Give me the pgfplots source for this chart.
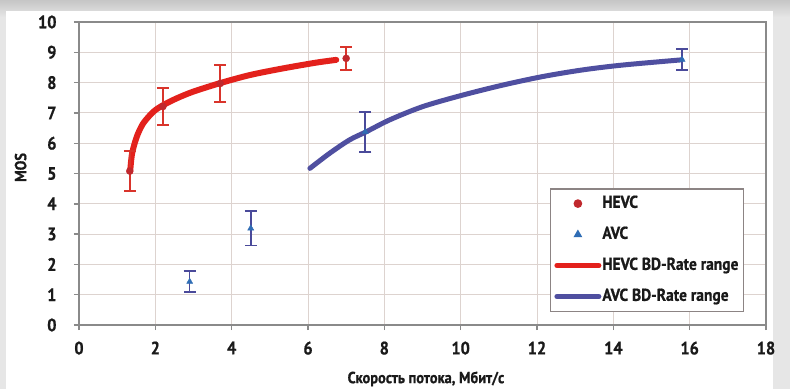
\documentclass[border=0pt]{standalone}
\usepackage{fontspec}
\setmainfont{PT Sans}[FakeStretch=0.9, BoldFont={PT Sans Bold}, BoldFeatures={FakeBold=0.8}]
\usepackage{pgfplots}
\pgfplotsset{compat=1.18}
\definecolor{outerbg}{HTML}{E6E6E6}
\definecolor{hevcline}{HTML}{E3211C}
\definecolor{avcline}{HTML}{4F4FA0}
\definecolor{hevcmark}{HTML}{C0282D}
\definecolor{avcmark}{HTML}{2F6DB5}
\definecolor{hevcerr}{HTML}{D9342B}
\definecolor{avcerr}{HTML}{4A4A9A}
\definecolor{gridc}{HTML}{DDD3CF}
\definecolor{axisc}{HTML}{8A8A8A}
\definecolor{legc}{HTML}{8C8484}
\definecolor{txt}{HTML}{1A1A1A}
\pgfplotsset{
  markentry/.style={legend image code/.code={\path (0pt,0pt) (44pt,0pt); \draw[##1] plot coordinates {(22pt,0pt)};}},
  lineentry/.style={legend image code/.code={\draw[##1] (1pt,0pt) -- (43pt,0pt);}},
}
\begin{document}
\begin{tikzpicture}[x=1pt,y=1pt]
\useasboundingbox (0,0) rectangle (790,389);
\fill[outerbg] (0,0) rectangle (790,389);
\shade[top color=gray!45, bottom color=outerbg] (0,372) rectangle (790,389);
\fill[white] (6,0) rectangle (773,378);
\begin{axis}[
  at={(79pt,64pt)}, anchor=south west,
  scale only axis, width=687pt, height=303pt,
  xmin=0, xmax=18, ymin=0, ymax=10,
  xtick={0,2,...,18}, ytick={0,1,...,10},
  xticklabels={0,2,4,6,8,10,12,14,16,18},
  yticklabels={0,1,2,3,4,5,6,7,8,9,10},
  grid=major,
  grid style={color=gridc, line width=0.9pt},
  axis line style={color=axisc, line width=1.6pt},
  tick style={color=axisc, line width=1.4pt},
  tick pos=lower, tick align=outside, major tick length=5pt,
  tick label style={font=\fontsize{18}{21}\selectfont\bfseries, text=txt},
  xticklabel style={yshift=-8pt},
  yticklabel style={xshift=-14pt},
  xlabel={Скорость потока, Мбит/с},
  ylabel={MOS},
  label style={font=\fontsize{16}{19}\selectfont\bfseries, text=txt},
  x label style={at={(axis description cs:0.505,-0.178)}, anchor=center},
  y label style={at={(axis description cs:-0.085,0.52)}, anchor=center, rotate=0},
  legend style={at={(axis cs:12.33,4.52)}, anchor=north west,
    draw=legc, line width=1.6pt, fill=white,
    font=\fontsize{17.2}{20}\selectfont\bfseries, text=txt,
    nodes={text height=12pt, text depth=3.5pt, inner ysep=2pt, inner xsep=1pt},
    inner xsep=4pt, inner ysep=5pt,
    row sep=11.5pt, column sep=0pt},
  legend cell align=left,
]
% fitted curves
\addplot[color=hevcline, line width=6pt, smooth, line cap=round, forget plot] coordinates {
  (1.34,5.06) (1.39,5.65) (1.51,6.2) (1.68,6.65) (1.95,7.04) (2.21,7.26) (2.56,7.48) (2.99,7.7) (3.69,7.98) (4.48,8.25) (5.35,8.47) (6.22,8.66) (6.74,8.75)
};
\addplot[color=avcline, line width=5pt, smooth, line cap=round, forget plot] coordinates {
  (6.05,5.17) (6.57,5.67) (7.09,6.11) (7.53,6.38) (8.14,6.77) (9.01,7.21) (10.06,7.59) (11.11,7.92) (12.15,8.2) (13.2,8.42) (14.25,8.58) (15.78,8.75)
};
% measured points
\addplot[only marks, mark=*, mark size=3.5pt, color=hevcmark, forget plot,
  error bars/.cd, y dir=both, y explicit,
  error bar style={color=hevcerr, line width=1.6pt},
  error mark options={color=hevcerr, line width=1.6pt, mark size=6pt, rotate=90}]
  coordinates {
  (1.33,5.08) +- (0,0.66)
  (2.2,7.21) +- (0,0.61)
  (3.7,7.97) +- (0,0.61)
  (7.0,8.8) +- (0,0.38)
};
\addplot[only marks, mark=triangle*, mark size=3.5pt, color=avcmark, forget plot,
  error bars/.cd, y dir=both, y explicit,
  error bar style={color=avcerr, line width=1.6pt},
  error mark options={color=avcerr, line width=1.6pt, mark size=6pt, rotate=90}]
  coordinates {
  (2.9,1.43) +- (0,0.35)
  (4.5,3.19) +- (0,0.57)
  (7.5,6.37) +- (0,0.66)
  (15.8,8.76) +- (0,0.34)
};
\addlegendimage{only marks, mark=*, mark size=3.5pt, color=hevcmark, markentry}
\addlegendentry{HEVC}
\addlegendimage{only marks, mark=triangle*, mark size=3.5pt, color=avcmark, markentry}
\addlegendentry{AVC}
\addlegendimage{color=hevcline, line width=5pt, line cap=round, lineentry}
\addlegendentry{HEVC BD-Rate range}
\addlegendimage{color=avcline, line width=5pt, line cap=round, lineentry}
\addlegendentry{AVC BD-Rate range}
\end{axis}
\end{tikzpicture}
\end{document}
